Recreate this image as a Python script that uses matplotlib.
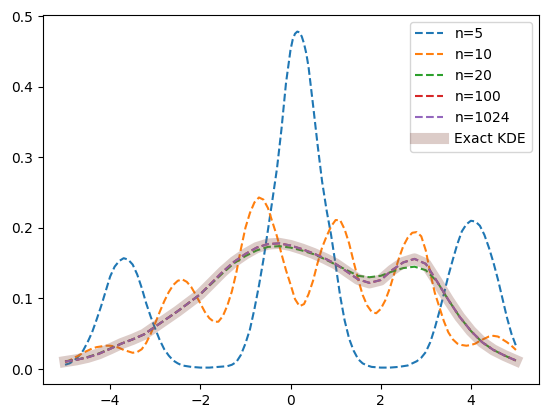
import matplotlib
matplotlib.use("Agg")
import matplotlib.pyplot as plt

# n=5 approximation
x_n5 = [-5.0, -4.9, -4.8, -4.7, -4.6, -4.5, -4.4, -4.3, -4.2, -4.1, -4.0, -3.9, -3.8, -3.7, -3.6,
        -3.5, -3.4, -3.3, -3.2, -3.1, -3.0, -2.9, -2.8, -2.7, -2.6, -2.5, -2.4, -2.2, -2.0, -1.8,
        -1.6, -1.4, -1.3, -1.2, -1.1, -1.0, -0.9, -0.8, -0.7, -0.6, -0.5, -0.4, -0.3, -0.2, -0.1,
        0.0, 0.05, 0.1, 0.15, 0.2, 0.25, 0.3, 0.35, 0.4, 0.5, 0.6, 0.7, 0.8, 0.9, 1.0,
        1.1, 1.2, 1.3, 1.4, 1.5, 1.6, 1.7, 1.8, 2.0, 2.2, 2.4, 2.5, 2.6, 2.7, 2.8,
        2.9, 3.0, 3.1, 3.2, 3.3, 3.4, 3.5, 3.6, 3.7, 3.8, 3.9, 4.0, 4.1, 4.2, 4.3,
        4.4, 4.5, 4.6, 4.7, 4.8, 4.9, 5.0]
y_n5 = [0.006, 0.008, 0.012, 0.018, 0.026, 0.038, 0.052, 0.070, 0.089, 0.110, 0.131, 0.145, 0.153, 0.157, 0.155,
        0.148, 0.134, 0.115, 0.093, 0.074, 0.057, 0.041, 0.028, 0.019, 0.012, 0.008, 0.005, 0.003, 0.002, 0.002,
        0.003, 0.004, 0.006, 0.010, 0.020, 0.036, 0.056, 0.085, 0.118, 0.155, 0.197, 0.240, 0.284, 0.340, 0.405,
        0.452, 0.467, 0.475, 0.478, 0.477, 0.471, 0.461, 0.447, 0.428, 0.374, 0.318, 0.266, 0.225, 0.190, 0.148,
        0.104, 0.069, 0.043, 0.026, 0.014, 0.008, 0.005, 0.003, 0.002, 0.002, 0.003, 0.004, 0.005, 0.008, 0.011,
        0.016, 0.024, 0.038, 0.058, 0.081, 0.106, 0.132, 0.155, 0.177, 0.195, 0.205, 0.210, 0.209, 0.203, 0.190,
        0.172, 0.151, 0.127, 0.100, 0.073, 0.050, 0.033]

# n=10 approximation, x from -5 to 5 in steps of 0.1
x_n10 = [round(-5.0 + 0.1 * i, 1) for i in range(101)]
y_n10 = [0.010, 0.012, 0.016, 0.019, 0.023, 0.026, 0.029, 0.031, 0.032, 0.033,   # -5.0 .. -4.1
         0.033, 0.032, 0.030, 0.027, 0.025, 0.023, 0.024, 0.028, 0.037, 0.050,   # -4.0 .. -3.1
         0.065, 0.081, 0.096, 0.109, 0.119, 0.125, 0.127, 0.1235, 0.116, 0.105, # -3.0 .. -2.1
         0.093, 0.081, 0.072, 0.067, 0.067, 0.075, 0.090, 0.110, 0.137, 0.170,  # -2.0 .. -1.1
         0.200, 0.221, 0.236, 0.243, 0.240, 0.228, 0.208, 0.188, 0.163, 0.140,  # -1.0 .. -0.1
         0.120, 0.099, 0.089, 0.092, 0.106, 0.125, 0.150, 0.172, 0.188, 0.202,  # 0.0 .. 0.9
         0.211, 0.211, 0.198, 0.178, 0.152, 0.127, 0.105, 0.090, 0.081, 0.079,  # 1.0 .. 1.9
         0.085, 0.097, 0.114, 0.135, 0.156, 0.174, 0.186, 0.193, 0.194, 0.188,  # 2.0 .. 2.9
         0.168, 0.136, 0.108, 0.088, 0.068, 0.052, 0.042, 0.036, 0.034, 0.033,  # 3.0 .. 3.9
         0.034, 0.036, 0.040, 0.043, 0.046, 0.047, 0.046, 0.042, 0.038, 0.033,  # 4.0 .. 4.9
         0.027]                                                                   # 5.0

# common grid for the smooth curves
x_grid = [-5.0, -4.75, -4.5, -4.25, -4.0, -3.75, -3.5, -3.25, -3.0, -2.75, -2.5, -2.25, -2.0, -1.75,
          -1.5, -1.25, -1.0, -0.75, -0.5, -0.25, 0.0, 0.25, 0.5, 0.75, 1.0, 1.25, 1.5, 1.75,
          2.0, 2.25, 2.5, 2.75, 3.0, 3.25, 3.5, 3.75, 4.0, 4.25, 4.5, 4.75, 5.0]
y_n20 = [0.011, 0.013, 0.017, 0.022, 0.029, 0.036, 0.042, 0.049, 0.060, 0.071, 0.082, 0.094, 0.106, 0.121,
         0.136, 0.150, 0.160, 0.168, 0.173, 0.174, 0.172, 0.168, 0.163, 0.156, 0.148, 0.140, 0.132, 0.130,
         0.132, 0.138, 0.143, 0.145, 0.140, 0.124, 0.098, 0.074, 0.054, 0.038, 0.027, 0.019, 0.012]
y_exact = [0.0105, 0.013, 0.0165, 0.0215, 0.0285, 0.036, 0.042, 0.049, 0.060, 0.071, 0.082, 0.094, 0.106, 0.122,
           0.138, 0.152, 0.163, 0.172, 0.177, 0.178, 0.175, 0.170, 0.164, 0.157, 0.149, 0.138, 0.127, 0.122,
           0.126, 0.140, 0.151, 0.156, 0.149, 0.124, 0.098, 0.074, 0.054, 0.038, 0.027, 0.019, 0.012]
y_n100 = y_exact
y_n1024 = y_exact

fig = plt.figure(figsize=(5.47, 4.18), dpi=100)
ax = fig.add_axes([42.5 / 547, 33.6 / 418, 496 / 547, 369.6 / 418])

ax.plot(x_n5, y_n5, '--', color='C0', label='n=5')
ax.plot(x_n10, y_n10, '--', color='C1', label='n=10')
ax.plot(x_grid, y_n20, '--', color='C2', label='n=20')
ax.plot(x_grid, y_n100, '--', color='C3', label='n=100')
ax.plot(x_grid, y_n1024, '--', color='C4', label='n=1024')
ax.plot(x_grid, y_exact, '-', color='C5', alpha=0.3, lw=8, label='Exact KDE')

ax.legend(loc='upper right')
fig.savefig('out.png', dpi=100)
